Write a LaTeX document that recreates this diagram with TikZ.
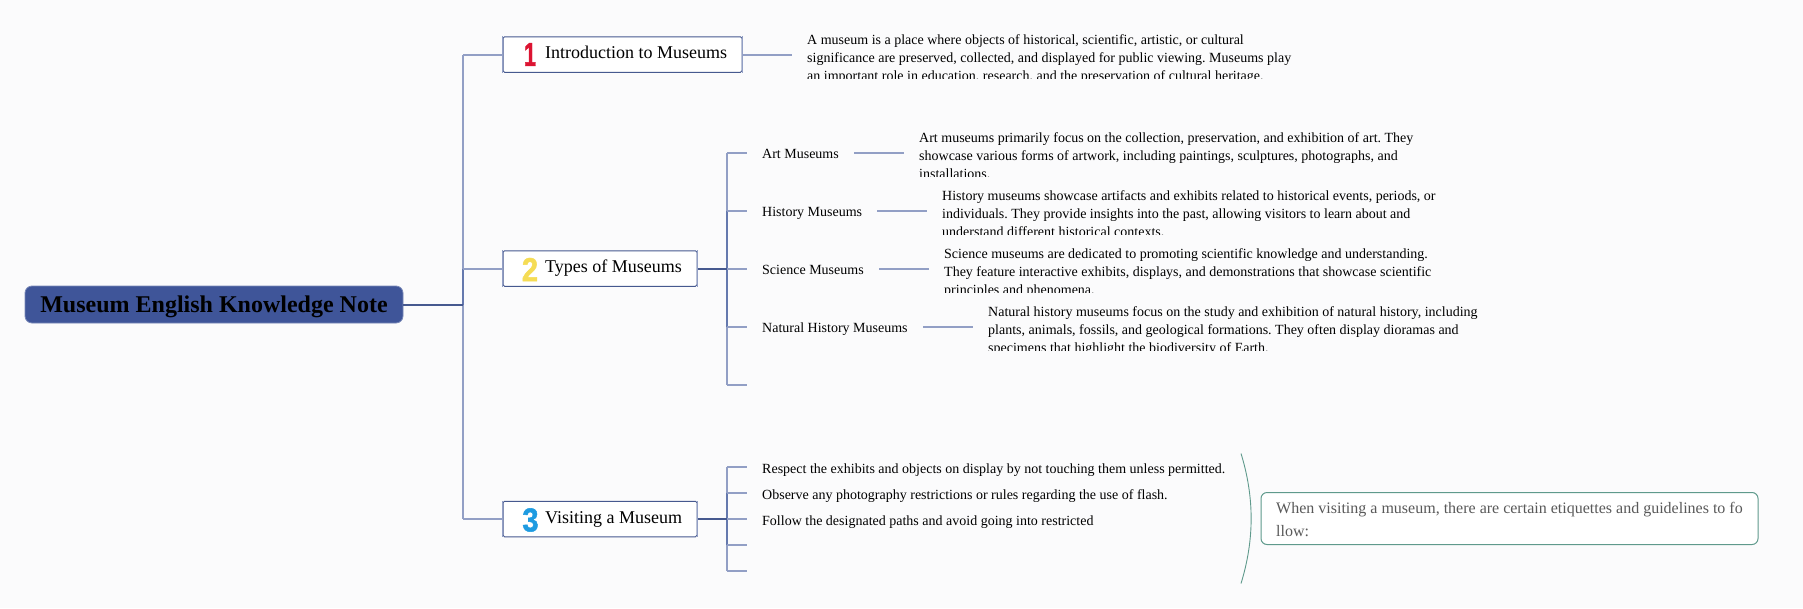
\documentclass[tikz,border=0pt]{standalone}
\usepackage{fontspec}
\setmainfont{Liberation Serif}
\newfontfamily\numfont[FakeBold=1.6]{Liberation Sans}
\definecolor{bgc}{HTML}{FBFBFC}
\definecolor{rootc}{HTML}{3F5599}
\definecolor{linel}{HTML}{929FC5}
\definecolor{linem}{HTML}{6579AE}
\definecolor{lined}{HTML}{46598F}
\definecolor{notec}{HTML}{5F9A8C}
\tikzset{x=1pt,y=-1pt,
 rootbox/.style={draw=rootc!70,fill=rootc,rounded corners=7pt,line width=.8pt,minimum width=378pt,minimum height=37pt,inner sep=0pt,font=\fontsize{24}{28}\selectfont\bfseries,text=black},
 topicbox/.style={draw=lined,fill=white,rounded corners=1.5pt,line width=1pt,minimum height=35.5pt,inner sep=0pt},
 topictext/.style={inner sep=0pt,anchor=base west,font=\fontsize{18}{22}\selectfont},
 numtext/.style={inner sep=0pt,font=\fontsize{33}{33}\selectfont\numfont\bfseries,xscale=.88},
 sublabel/.style={inner sep=0pt,anchor=base west,font=\fontsize{14}{18}\selectfont},
 desc/.style={inner sep=0pt,anchor=north west,align=left,font=\fontsize{14}{18}\selectfont},
 conl/.style={draw=linel,line width=2pt},
 cond/.style={draw=lined,line width=2pt},
 trunk/.style={draw=linel,line width=1.8pt},
 trunkm/.style={draw=linem,line width=1.8pt},
 edge/.style={draw=linel,line width=1.2pt},
 notebox/.style={draw=notec,fill=white,rounded corners=6pt,line width=1pt,minimum width=497pt,minimum height=52pt,inner sep=0pt},
 notetext/.style={inner sep=0pt,anchor=north west,align=left,text=black!65,font=\fontsize{16}{23}\selectfont},
}
\begin{document}
\frenchspacing
\begin{tikzpicture}
\useasboundingbox[fill=bgc] (0,0) rectangle (1803,608);
\begin{scope}[yshift=-0.5pt]
% boxes
\node[rootbox] (root) at (214,304) {\raisebox{-8pt}[0pt][0pt]{Museum English Knowledge Note}};
\node[topicbox,minimum width=239pt] (t1) at (622.5,54) {};
\node[topicbox,minimum width=194pt] (t2) at (600,268) {};
\node[topicbox,minimum width=194pt] (t3) at (600,518.5) {};
\foreach \t in {t1,t2,t3} {
  \draw[edge] (\t.north west) -- (\t.south west);
  \draw[edge] (\t.north east) -- (\t.south east);
}
\node[numtext,xscale=.75,text={rgb,255:red,220;green,20;blue,50}] (n1) at (530,54) {1};
\node[numtext,text={rgb,255:red,245;green,220;blue,85}] (n2) at (530,269) {2};
\node[numtext,text={rgb,255:red,30;green,155;blue,225}] (n3) at (530.5,519.5) {3};
\node[topictext] (l1) at (545,58) {Introduction to Museums};
\node[topictext] (l2) at (545,272) {Types of Museums};
\node[topictext] (l3) at (545,522.5) {Visiting a Museum};
% main tree
\coordinate (m) at (463,304);
\coordinate (m1) at (463,54);
\coordinate (m2) at (463,268);
\coordinate (m3) at (463,518.5);
\draw[trunk] (m1) -- (m3);
\draw[trunkm] (m2) -- (m);
\draw[cond] (root.east) -- (m);
\draw[conl] (m1) -- (t1.west);
\draw[conl] (m2) -- (t2.west);
\draw[conl] (m3) -- (t3.west);
% first description
\coordinate (d1) at (792,54);
\draw[conl] (t1.east) -- (d1);
\begin{scope}
\clip (800,30) rectangle (1320,77.5);
\node[desc] (dt1) at (807,31.5) {\strut A museum is a place where objects of historical, scientific, artistic, or cultural\\\strut significance are preserved, collected, and displayed for public viewing. Museums play\\\strut an important role in education, research, and the preservation of cultural heritage.};
\end{scope}
% types
\coordinate (a) at (727,268);
\coordinate (a1) at (727,152);
\coordinate (a2) at (727,210);
\coordinate (a3) at (727,268);
\coordinate (a4) at (727,326);
\coordinate (a5) at (727,384);
\coordinate (a1e) at (747,152);
\coordinate (a2e) at (747,210);
\coordinate (a3e) at (747,268);
\coordinate (a4e) at (747,326);
\coordinate (a5e) at (747,384);
\draw[trunk] (a1) -- (a5);
\draw[trunkm] (a2) -- (a4);
\draw[cond] (t2.east) -- (a);
\foreach \i in {1,...,5} \draw[conl] (a\i) -- (a\i e);
\node[sublabel] (s1) at (762,158) {Art Museums};
\node[sublabel] (s2) at (762,216) {History Museums};
\node[sublabel] (s3) at (762,274) {Science Museums};
\node[sublabel] (s4) at (762,332) {Natural History Museums};
\coordinate (c1a) at (854,152); \coordinate (c1b) at (904,152);
\coordinate (c2a) at (877,210); \coordinate (c2b) at (927,210);
\coordinate (c3a) at (879,268); \coordinate (c3b) at (929,268);
\coordinate (c4a) at (923,326); \coordinate (c4b) at (973,326);
\foreach \i in {1,...,4} \draw[conl] (c\i a) -- (c\i b);
\begin{scope}
\clip (910,125) rectangle (1500,175.5);
\node[desc] (dt2) at (919,129.5) {\strut Art museums primarily focus on the collection, preservation, and exhibition of art. They\\\strut showcase various forms of artwork, including paintings, sculptures, photographs, and\\\strut installations.};
\end{scope}
\begin{scope}
\clip (935,183) rectangle (1500,233.5);
\node[desc] (dt3) at (942,187.5) {\strut History museums showcase artifacts and exhibits related to historical events, periods, or\\\strut individuals. They provide insights into the past, allowing visitors to learn about and\\\strut understand different historical contexts.};
\end{scope}
\begin{scope}
\clip (935,241) rectangle (1500,291.5);
\node[desc] (dt4) at (944,245.5) {\strut Science museums are dedicated to promoting scientific knowledge and understanding.\\\strut They feature interactive exhibits, displays, and demonstrations that showcase scientific\\\strut principles and phenomena.};
\end{scope}
\begin{scope}
\clip (980,299) rectangle (1500,349.5);
\node[desc] (dt5) at (988,303.5) {\strut Natural history museums focus on the study and exhibition of natural history, including\\\strut plants, animals, fossils, and geological formations. They often display dioramas and\\\strut specimens that highlight the biodiversity of Earth.};
\end{scope}
% visiting
\coordinate (b) at (727,518.5);
\coordinate (b1) at (727,466.5);
\coordinate (b2) at (727,492.5);
\coordinate (b3) at (727,518.5);
\coordinate (b4) at (727,544.5);
\coordinate (b5) at (727,570.5);
\coordinate (b1e) at (747,466.5);
\coordinate (b2e) at (747,492.5);
\coordinate (b3e) at (747,518.5);
\coordinate (b4e) at (747,544.5);
\coordinate (b5e) at (747,570.5);
\draw[trunk] (b1) -- (b5);
\draw[trunkm] (b2) -- (b4);
\draw[cond] (t3.east) -- (b);
\foreach \i in {1,...,5} \draw[conl] (b\i) -- (b\i e);
\node[sublabel] (v1) at (762,473) {Respect the exhibits and objects on display by not touching them unless permitted.};
\node[sublabel] (v2) at (762,499) {Observe any photography restrictions or rules regarding the use of flash.};
\node[sublabel] (v3) at (762,525) {Follow the designated paths and avoid going into restricted};
% note
\node[notebox] (note) at (1509.5,518) {};
\coordinate (q1) at (1241,453);
\coordinate (q2) at (1241,583);
\draw[notec,line width=.9pt] (q1) .. controls (1254.5,497) and (1254.5,539) .. (q2);
\node[notetext] (nt) at (1276,496.5) {\strut When visiting a museum, there are certain etiquettes and guidelines to fo\\\strut llow:};
\end{scope}
\end{tikzpicture}
\end{document}
